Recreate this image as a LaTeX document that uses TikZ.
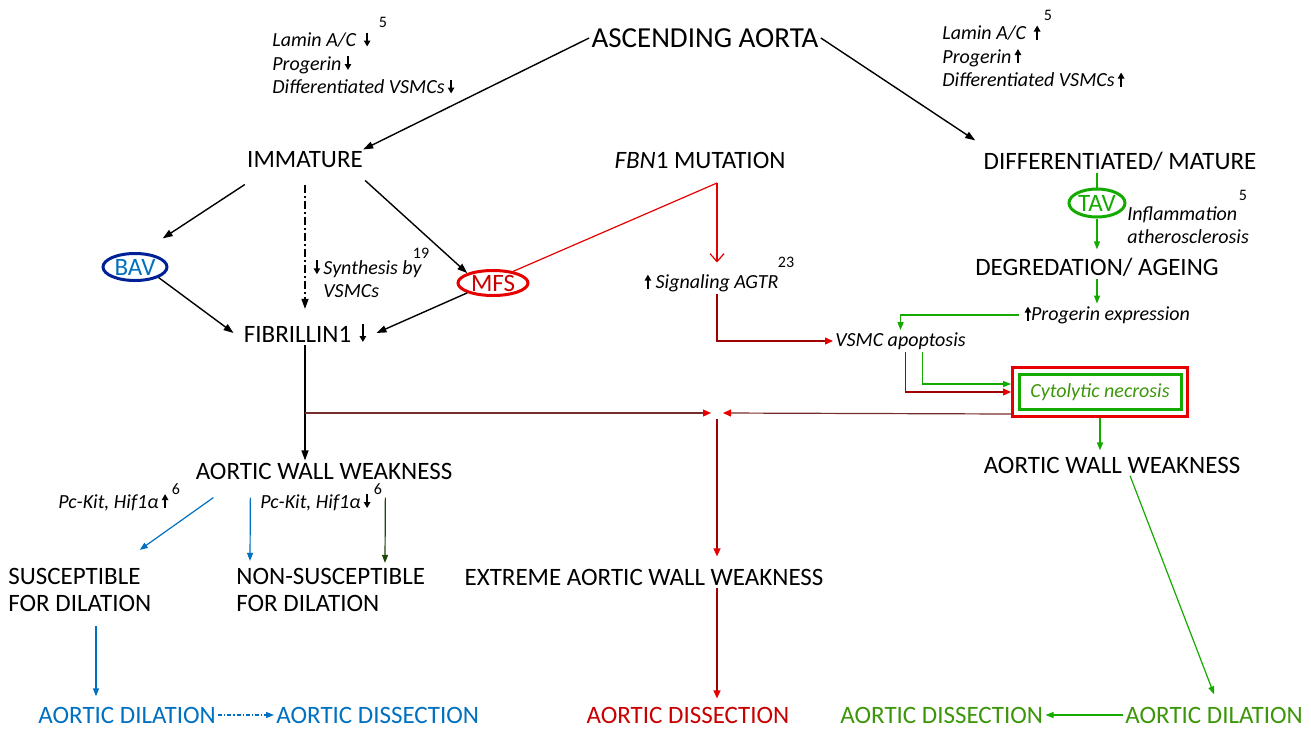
\documentclass[tikz,border=0pt]{standalone}
\usepackage{fontspec}
\setmainfont{Carlito}
\usetikzlibrary{arrows.meta, positioning, shapes.geometric, calc}
\definecolor{bavblue}{RGB}{0,32,150}
\definecolor{dilblue}{RGB}{0,112,192}
\definecolor{mfsred}{RGB}{230,0,0}
\definecolor{dissred}{RGB}{200,0,0}
\definecolor{junctbrown}{RGB}{120,45,45}
\definecolor{tavgreen}{RGB}{20,170,0}
\definecolor{txtgreen}{RGB}{60,150,10}
\definecolor{darkgreen}{RGB}{30,70,10}
% small filled arrows inside the texts
\newcommand{\arrdown}[1][7]{\,\tikz[baseline=0pt, x=1pt, y=1pt]\draw[line width=0.7pt, -{Triangle[length=3pt, width=3.2pt]}] (0,#1) -- (0,0);}
\newcommand{\arrup}[1][7]{\,\tikz[baseline=0pt, x=1pt, y=1pt]\draw[line width=0.7pt, -{Triangle[length=3pt, width=3.2pt]}] (0,0) -- (0,#1);}

\begin{document}
\begin{tikzpicture}[x=0.5pt, y=-0.5pt,
    main/.style={font=\fontsize{12.5}{13.5}\selectfont, inner sep=1pt, align=left},
    note/.style={font=\fontsize{10}{11.75}\selectfont\itshape, inner sep=1pt, align=left},
    refnum/.style={font=\fontsize{8}{9}\selectfont, inner sep=0pt},
    oval/.style={ellipse, line width=1.5pt, inner sep=0pt, text height=8pt, text depth=0pt,
                 font=\fontsize{12.5}{13.5}\selectfont},
    arrow/.style={-{Triangle[length=5pt, width=3.5pt]}, line width=0.7pt},
    redarrow/.style={-{Triangle[length=4pt, width=3.5pt, color=mfsred]}, line width=0.6pt, dissred!80!black},
    brownarrow/.style={-{Triangle[length=4pt, width=3.5pt, color=mfsred]}, line width=0.6pt, junctbrown},
    garrow/.style={-{Triangle[length=4pt, width=3pt]}, line width=0.6pt, tavgreen},
    barrow/.style={-{Triangle[length=4pt, width=3pt]}, line width=0.6pt, dilblue},
    boxline/.style={line width=1.5pt, minimum width=#1}
  ]
  \useasboundingbox (0,0) rectangle (1311,729);

  % top
  \node[main, font=\fontsize{14.5}{15}\selectfont] (asc) at (705,38) {ASCENDING AORTA};
  \node[note, anchor=west] (laminlo) at (270,63)
    {Lamin A/C \arrdown\\Progerin\arrdown\\Differentiated VSMCs\arrdown};
  \node[refnum] (reflo) at (383,22) {5};
  \node[note, anchor=west] (laminhi) at (940,56)
    {Lamin A/C \arrup\\Progerin\arrup\\Differentiated VSMCs\arrup};
  \node[refnum] (refhi) at (1048,15) {5};

  \node[main] (imm) at (305,160) {IMMATURE};
  \node[main] (fbn) at (700,160) {\textit{FBN}1 MUTATION};
  \node[main] (diff) at (1120,161) {DIFFERENTIATED/ MATURE};

  \node[oval, draw=bavblue, text=dilblue, minimum width=32pt, minimum height=13.5pt] (bav) at (135,267) {BAV};
  \node[oval, draw=mfsred, text=dissred, minimum width=35pt, minimum height=12.5pt] (mfs) at (493,283) {MFS};
  \node[oval, draw=tavgreen, text=tavgreen, minimum width=28pt, minimum height=14pt] (tav) at (1097,203) {TAV};

  \node[note, anchor=west] (synth) at (308,279) {\arrdown\,Synthesis by\\\phantom{\arrdown\,}VSMCs};
  \node[refnum] (refsyn) at (421,253) {19};
  \node[main] (fib) at (305,333) {FIBRILLIN1\,\arrdown[9]};

  \node[note] (sig) at (710,283) {\arrup\ Signaling AGTR};
  \node[refnum] (refsig) at (786,262) {23};
  \node[note, anchor=west] (infl) at (1125,225) {Inflammation\\atherosclerosis};
  \node[refnum] (refinfl) at (1243,195) {5};
  \node[main] (deg) at (1097,267) {DEGREDATION/ AGEING};
  \node[note, anchor=west] (prog) at (1019,315) {\arrup Progerin expression};
  \node[note, anchor=west] (vsmc) at (833,341) {VSMC apoptosis};
  \node[note, draw=tavgreen, text=txtgreen, boxline=81pt, minimum height=17.5pt] (necro) at (1100,392) {Cytolytic necrosis};
  \node[draw=mfsred, boxline=87.5pt, minimum height=24.5pt] (necrobox) at (1100,392) {};
  \coordinate (fbncorner) at (717,183);
  \coordinate (junct) at (717,413);

  % bottom
  \node[main] (aww) at (324,471) {AORTIC WALL WEAKNESS};
  \node[note, anchor=west] (kitup) at (56,502) {Pc-Kit, Hif1α\arrup};
  \node[refnum] (refkitup) at (176,489) {6};
  \node[note, anchor=west] (kitdn) at (258,502) {Pc-Kit, Hif1α\arrdown};
  \node[refnum] (refkitdn) at (378,489) {6};
  \node[main, anchor=west] (sus) at (6,590) {SUSCEPTIBLE\\FOR DILATION};
  \node[main, anchor=west] (nonsus) at (234,590) {NON-SUSCEPTIBLE\\FOR DILATION};
  \node[main] (ext) at (644,577) {EXTREME AORTIC WALL WEAKNESS};
  \node[main] (aww2) at (1112,465) {AORTIC WALL WEAKNESS};
  \node[main, text=dilblue, anchor=west] (dilb) at (36,715) {AORTIC DILATION};
  \node[main, text=dilblue, anchor=west] (disb) at (274,715) {AORTIC DISSECTION};
  \node[main, text=dissred] (disr) at (688,715) {AORTIC DISSECTION};
  \node[main, text=txtgreen, anchor=west] (disg) at (838,715) {AORTIC DISSECTION};
  \node[main, text=txtgreen, anchor=west] (dilg) at (1123,715) {AORTIC DILATION};

  % black connectors
  \draw[arrow] (asc.west) -- ([xshift=-1pt]imm.north east);
  \draw[arrow] (asc.east) -- ($(diff.north west)+(-6,-9)$);
  \draw[arrow] ([yshift=-7pt]imm.south west) -- ($(bav.north east)+(4,-18)$);
  \draw[arrow, dash pattern=on 4pt off 1.5pt on 1pt off 1.5pt] ([yshift=-7pt]imm.south) -- ([yshift=6pt]fib.north);
  \draw[arrow] ([yshift=-5pt]imm.south east) -- (mfs.north west);
  \draw[arrow] (bav.south east) -- ([xshift=-4pt]fib.west);
  \draw[arrow] (mfs.south west) -- ([xshift=4pt]fib.east);
  \draw[arrow] (fib.south) -- (aww.north -| fib.south);

  % red connectors
  \draw[mfsred, line width=0.6pt] (mfs.30) -- (fbncorner);
  \draw[mfsred, line width=0.6pt, -{Straight Barb[length=4pt, width=7pt]}] (fbncorner) -- ($(sig.north -| fbncorner)+(0,-9)$);
  \draw[redarrow] (sig.south -| fbncorner) |- (vsmc.west);
  \draw[redarrow] ([xshift=2.5pt]vsmc.south) |- (necrobox.west);
  \draw[brownarrow] ([yshift=2pt]necrobox.south west) -- ([xshift=3pt]junct);
  \draw[brownarrow] (fib.south |- junct) -- ([xshift=-3pt]junct);
  \draw[redarrow] ([yshift=-3pt]junct) -- ($(ext.north -| junct)+(0,-10)$);
  \draw[redarrow] (ext.south -| junct) -- ($(disr.north -| junct)+(0,-6)$);

  % green connectors
  \draw[tavgreen, line width=0.6pt] (tav.north |- diff.south) -- (tav.north);
  \draw[garrow] (tav.south) -- ($(deg.north -| tav.south)+(0,-6)$);
  \draw[garrow] (deg.south) -- (prog.north -| deg.south);
  \draw[garrow] (prog.west) -| (vsmc.north);
  \draw[garrow] ([xshift=11pt]vsmc.south) |- ([yshift=4pt]necrobox.west);
  \draw[garrow] (necrobox.south) -- ($(aww2.north -| necrobox.south)+(0,-4)$);
  \draw[garrow] ([xshift=9pt]aww2.south) -- ($(dilg.north)+(0,-10)$);
  \draw[garrow] (dilg.west) -- (disg.east);

  % blue connectors
  \draw[barrow] ($(aww.south west)+(20,16)$) -- ($(sus.north east)+(-14,-16)$);
  \draw[barrow] ($(aww.south west)+(57,16)$) -- ($(nonsus.north west)+(16,-5)$);
  \draw[-{Triangle[length=4pt, width=3pt]}, line width=0.6pt, darkgreen] ($(aww.south west)+(192,16)$) -- ($(nonsus.north west)+(151,-3)$);
  \draw[barrow] ($(sus.south west)+(90,12)$) -- ($(dilb.north west)+(60,-8)$);
  \draw[barrow, dash pattern=on 2pt off 1pt on 0.6pt off 1pt] (dilb.east) -- (disb.west);
\end{tikzpicture}
\end{document}
